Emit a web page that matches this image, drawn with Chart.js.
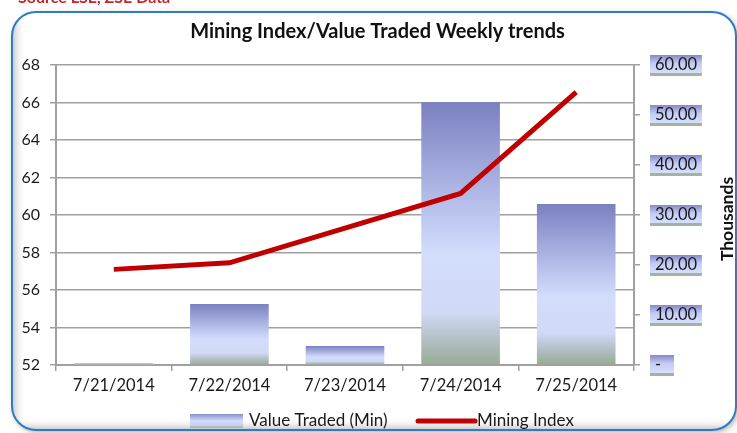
<!DOCTYPE html>
<html>
<head>
<meta charset="utf-8">
<script src="https://cdn.jsdelivr.net/npm/chart.js@4.4.1/dist/chart.umd.min.js"></script>
<style>
  html, body { margin: 0; padding: 0; background: #fff; }
  #wrap { width: 737px; height: 433px; position: relative; }
</style>
</head>
<body>
<div id="wrap"><canvas id="myChart" width="737" height="433"></canvas></div>
<script>
var dates = ['7/21/2014', '7/22/2014', '7/23/2014', '7/24/2014', '7/25/2014'];
var valueTraded = [0.3, 12.2, 3.8, 52.6, 32.2];   // thousands
var miningIndex = [57.1, 57.45, 59.3, 61.15, 66.55];
var leftTicks = [52, 54, 56, 58, 60, 62, 64, 66, 68];
var rightTicks = [0, 10, 20, 30, 40, 50, 60];

var FONT = 'Lato, "Open Sans", sans-serif';
var GRID = '#a0a0a0';

function barGradient(ctx) {
  var chart = ctx.chart;
  var s = chart.scales.y2;
  if (!s || ctx.raw == null) return '#c0c8f0';
  var top = s.getPixelForValue(ctx.raw);
  var bot = s.getPixelForValue(0);
  if (!isFinite(top) || !isFinite(bot)) return '#c0c8f0';
  if (bot - top < 1) top = bot - 1;
  var g = chart.ctx.createLinearGradient(0, top, 0, bot);
  g.addColorStop(0, '#7b80bf');
  g.addColorStop(0.3, '#a9b1e2');
  g.addColorStop(0.58, '#d3ddfc');
  g.addColorStop(0.8, '#d0daf6');
  g.addColorStop(0.9, '#b3c0c6');
  g.addColorStop(1, '#98ab94');
  return g;
}

function boxGradient(c, y0, y1) {
  var g = c.createLinearGradient(0, y0, 0, y1);
  g.addColorStop(0, '#8489c8');
  g.addColorStop(0.4, '#c3cbf4');
  g.addColorStop(0.85, '#d6dffc');
  g.addColorStop(0.88, '#a3b39f');
  g.addColorStop(1, '#a3b39f');
  return g;
}

var framePlugin = {
  id: 'frame',
  beforeDraw: function (chart) {
    var c = chart.ctx;
    c.save();
    // source line (cut at top)
    c.fillStyle = '#c0282d';
    c.font = 'bold 16px ' + FONT;
    c.textBaseline = 'alphabetic';
    c.fillText('Source LSE, ZSE Data', 18, 3);
    // card
    var x = 12, y = 12, w = 724, h = 418, r = 24;
    c.beginPath();
    c.roundRect(x, y, w, h, r);
    c.shadowColor = 'rgba(0,0,0,0.35)';
    c.shadowBlur = 6;
    c.shadowOffsetX = 2;
    c.shadowOffsetY = 2;
    c.fillStyle = '#fff';
    c.fill();
    c.shadowColor = 'transparent';
    // inner soft shading on the left and bottom
    c.save();
    c.clip();
    var gl = c.createLinearGradient(x, 0, x + 14, 0);
    gl.addColorStop(0, 'rgba(150,150,150,0.55)');
    gl.addColorStop(1, 'rgba(255,255,255,0)');
    c.fillStyle = gl;
    c.fillRect(x, y, 14, h);
    var gb = c.createLinearGradient(0, y + h, 0, y + h - 12);
    gb.addColorStop(0, 'rgba(150,150,150,0.55)');
    gb.addColorStop(1, 'rgba(255,255,255,0)');
    c.fillStyle = gb;
    c.fillRect(x, y + h - 12, w, 12);
    c.restore();
    c.lineWidth = 2;
    c.strokeStyle = '#2f7bc4';
    c.beginPath();
    c.roundRect(x, y, w, h, r);
    c.stroke();

    // backdrop boxes for the right axis labels
    var s = chart.scales.y2;
    c.font = '16px ' + FONT;
    s.ticks.forEach(function (t, i) {
      var py = s.getPixelForTick(i);
      var tw = c.measureText(t.label).width;
      var bx = s.left + 16, by = py - 10, bw = tw + 11, bh = 21;
      if (t.label === '-') bw = 24;
      c.fillStyle = boxGradient(c, by, by + bh);
      c.fillRect(bx, by, bw, bh);
    });
    c.restore();
  },
  afterDraw: function (chart) {
    var c = chart.ctx;
    c.save();
    // right axis title, reading bottom to top
    var s = chart.scales.y2;
    c.translate(727, (s.top + s.bottom) / 2 + 4);
    c.rotate(-Math.PI / 2);
    c.textAlign = 'center';
    c.textBaseline = 'middle';
    c.fillStyle = '#111';
    c.font = 'bold 17.5px ' + FONT;
    c.fillText('Thousands', 0, 0);
    c.restore();

    // legend
    c.save();
    c.font = '17px ' + FONT;
    c.textBaseline = 'middle';
    var ly = 421;
    var l1 = chart.data.datasets[0].label, l2 = chart.data.datasets[1].label;
    var sx = 190;
    var g = c.createLinearGradient(0, ly - 7, 0, ly + 7);
    g.addColorStop(0, '#8a8fcb');
    g.addColorStop(0.5, '#d3ddfc');
    g.addColorStop(0.8, '#c8d2ee');
    g.addColorStop(1, '#9fb19c');
    c.fillStyle = g;
    c.fillRect(sx, ly - 7, 53, 14);
    c.fillStyle = '#1a1a1a';
    c.fillText(l1, sx + 59, ly);
    var lx = 418;
    c.strokeStyle = '#c00000';
    c.lineWidth = 5;
    c.lineCap = 'round';
    c.beginPath();
    c.moveTo(lx, ly);
    c.lineTo(lx + 57, ly);
    c.stroke();
    c.fillText(l2, lx + 59, ly);
    c.restore();
  }
};

new Chart(document.getElementById('myChart'), {
  type: 'bar',
  data: {
    labels: dates,
    datasets: [{
      type: 'bar',
      label: 'Value Traded (Min)',
      data: valueTraded,
      yAxisID: 'y2',
      backgroundColor: barGradient,
      borderWidth: 0,
      categoryPercentage: 1,
      barPercentage: 0.68,
      order: 2
    }, {
      type: 'line',
      label: 'Mining Index',
      data: miningIndex,
      yAxisID: 'y',
      borderColor: '#c00000',
      backgroundColor: '#c00000',
      borderWidth: 5,
      pointRadius: 0,
      tension: 0,
      order: 1
    }]
  },
  options: {
    responsive: false,
    animation: false,
    layout: { padding: { left: 20, right: 2, top: 20, bottom: 38 } },
    plugins: {
      legend: { display: false },
      tooltip: { enabled: false },
      title: {
        display: true,
        text: 'Mining Index/Value Traded Weekly trends',
        color: '#111',
        font: { family: FONT, size: 20, weight: 'bold' },
        padding: { top: 0, bottom: 21 }
      }
    },
    scales: {
      x: {
        offset: true,
        grid: { offset: true, drawOnChartArea: false, color: GRID, lineWidth: 1.5, tickLength: 6 },
        border: { color: GRID, width: 2 },
        ticks: { color: '#1a1a1a', font: { family: FONT, size: 16.5 }, padding: 5, maxRotation: 0 },
        afterFit: function (s) { s.height = 30; }
      },
      y: {
        position: 'left',
        min: 52, max: 68,
        afterBuildTicks: function (s) { s.ticks = leftTicks.map(function (v) { return { value: v }; }); },
        grid: { color: GRID, lineWidth: 1.5, tickLength: 6 },
        border: { color: GRID, width: 2 },
        ticks: { color: '#1a1a1a', font: { family: FONT, size: 16 }, padding: 10 },
        afterFit: function (s) { s.width = 36; }
      },
      y2: {
        position: 'right',
        min: 0, max: 60,
        afterBuildTicks: function (s) { s.ticks = rightTicks.map(function (v) { return { value: v }; }); },
        grid: { drawOnChartArea: false, color: GRID, lineWidth: 1.5, tickLength: 6 },
        border: { color: GRID, width: 2 },
        ticks: {
          color: '#1a1a1a', font: { family: FONT, size: 16.5 }, padding: 15,
          callback: function (v) { return v === 0 ? '-' : v.toFixed(2); }
        },
        afterFit: function (s) { s.width = 101; }
      }
    }
  },
  plugins: [framePlugin]
});
</script>
</body>
</html>
